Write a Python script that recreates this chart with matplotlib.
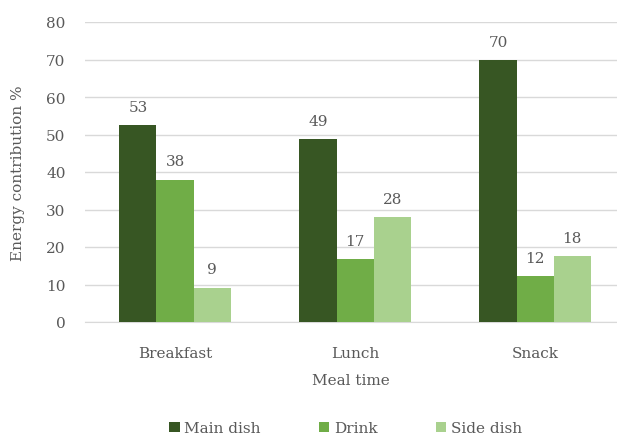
import numpy as np
import matplotlib
matplotlib.use('Agg')
import matplotlib.pyplot as plt

# Data
meals = ['Breakfast', 'Lunch', 'Snack']
main_dish = [52.6, 48.9, 69.9]
drink = [38.0, 16.9, 12.2]
side_dish = [9.2, 28.0, 17.6]
series_names = ['Main dish', 'Drink', 'Side dish']
colors = ['#375623', '#70AD47', '#A9D18E']

plt.rcParams['font.family'] = ['DejaVu Serif']
text_color = '#595959'
fs = 11

fig = plt.figure(figsize=(6.17, 4.35), dpi=100)
ax = fig.add_axes([85 / 617, 112 / 435, 532 / 617, 300 / 435])

x = np.arange(len(meals))
width = 0.206
for i, (vals, name, c) in enumerate(zip([main_dish, drink, side_dish], series_names, colors)):
    bars = ax.bar(x + (i - 1) * width, vals, width, color=c, label=name, zorder=3)
    ax.bar_label(bars, fmt='%.0f', padding=8, fontsize=fs, color=text_color)

ax.set_ylim(0, 80)
ax.set_xlim(-0.5, 2.455)
ax.set_yticks(range(0, 81, 10))
ax.set_xticks(x)
ax.set_xticklabels(meals)
ax.tick_params(axis='both', length=0, labelsize=fs, colors=text_color)
ax.tick_params(axis='y', pad=14)
ax.tick_params(axis='x', pad=17)
ax.grid(axis='y', color='#D9D9D9', linewidth=1, zorder=0)
for s in ['top', 'right', 'left']:
    ax.spines[s].set_visible(False)
ax.spines['bottom'].set_color('#D9D9D9')

ax.set_xlabel('Meal time', fontsize=fs, color=text_color, labelpad=10)
ax.set_ylabel('Energy contribution %', fontsize=fs, color=text_color, labelpad=15)

fig.legend(loc='lower center', bbox_to_anchor=(0.56, -0.035), ncol=3, frameon=False,
           fontsize=fs, labelcolor=text_color, handlelength=0.7, handleheight=0.7,
           handletextpad=0.3, columnspacing=3.8)

fig.savefig('out.png', dpi=100)
